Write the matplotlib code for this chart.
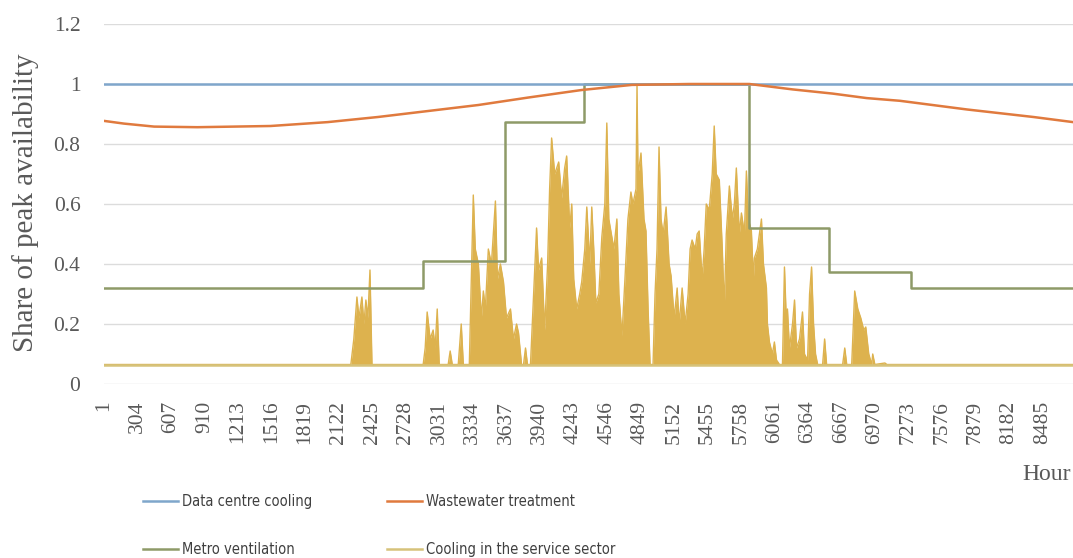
import matplotlib
matplotlib.use("Agg")
import matplotlib.pyplot as plt
import numpy as np
from matplotlib import font_manager
from matplotlib.font_manager import FontProperties

# hours 1..8760, category labels every 303 hours
tick_hours = list(range(1, 8761, 303))

# data centre cooling: flat
dc_level = 1.0

# wastewater treatment (hour, share)
ww_hours = [1, 181, 454, 844, 1506, 2024, 2477, 2931, 3385, 3838, 4319,
            4773, 5290, 5835, 6225, 6588, 6896, 7196, 7804, 8403, 8760]
ww_share = [0.877, 0.868, 0.858, 0.856, 0.860, 0.873, 0.890, 0.910, 0.930, 0.955, 0.980,
            0.997, 1.0, 1.0, 0.982, 0.968, 0.953, 0.944, 0.915, 0.890, 0.873]

# metro ventilation: monthly steps
metro_edges = [1, 2880, 3624, 4344, 5832, 6552, 7296, 8760]
metro_levels = [0.32, 0.41, 0.875, 1.0, 0.52, 0.375, 0.32]

# cooling in the service sector (hour, share), envelope of the hourly peaks
cool_base = 0.065
cool_hours = [
    1, 2232, 2259, 2287, 2305, 2332, 2350, 2368, 2386, 2405, 2423,
    2886, 2904, 2922, 2949, 2976, 2994, 3013, 3031, 3112, 3130, 3149,
    3203, 3230, 3249, 3303, 3321, 3339, 3357, 3385, 3412, 3430, 3448,
    3475, 3503, 3539, 3557, 3584, 3612, 3639, 3675, 3702, 3730, 3748,
    3775, 3793, 3811, 3829, 3856, 3884, 3911, 3929, 3957, 3984, 4011,
    4029, 4047, 4075, 4111, 4138, 4165, 4183, 4211, 4229, 4247, 4274,
    4301, 4319, 4347, 4365, 4392, 4410, 4428, 4447, 4474, 4501, 4528,
    4546, 4564, 4592, 4610, 4637, 4655, 4683, 4710, 4737, 4764, 4782,
    4810, 4819, 4828, 4837, 4855, 4882, 4900, 4919, 4937, 4964, 4982,
    5000, 5018, 5036, 5055, 5082, 5109, 5127, 5155, 5182, 5200, 5227,
    5254, 5281, 5299, 5317, 5345, 5363, 5381, 5408, 5426, 5445, 5472,
    5499, 5517, 5535, 5563, 5590, 5608, 5626, 5654, 5681, 5699, 5717,
    5744, 5763, 5790, 5808, 5826, 5853, 5871, 5880, 5907, 5926, 5944,
    5962, 5989, 5998, 6016, 6043, 6061, 6080, 6107, 6134, 6152, 6170,
    6179, 6197, 6225, 6243, 6261, 6288, 6315, 6333, 6361, 6379, 6397,
    6415, 6433, 6452, 6497, 6515, 6533, 6678, 6697, 6715, 6760, 6787,
    6815, 6842, 6869, 6887, 6914, 6941, 6950, 6969, 7060, 7078, 8760,
]
cool_share = [
    0.065, 0.065, 0.15, 0.29, 0.22, 0.29, 0.20, 0.28, 0.22, 0.38, 0.065,
    0.065, 0.12, 0.24, 0.15, 0.18, 0.12, 0.25, 0.065, 0.065, 0.11, 0.065,
    0.065, 0.20, 0.065, 0.065, 0.35, 0.63, 0.45, 0.40, 0.22, 0.31, 0.25,
    0.45, 0.40, 0.61, 0.35, 0.40, 0.34, 0.22, 0.25, 0.15, 0.20, 0.17,
    0.065, 0.065, 0.12, 0.065, 0.065, 0.30, 0.52, 0.38, 0.42, 0.18, 0.40,
    0.65, 0.82, 0.70, 0.74, 0.62, 0.72, 0.76, 0.52, 0.60, 0.35, 0.25,
    0.30, 0.34, 0.45, 0.59, 0.40, 0.59, 0.45, 0.27, 0.30, 0.49, 0.60,
    0.87, 0.55, 0.49, 0.45, 0.55, 0.30, 0.16, 0.35, 0.55, 0.64, 0.60,
    0.65, 1.0, 0.70, 0.72, 0.77, 0.55, 0.51, 0.25, 0.065, 0.065, 0.30,
    0.45, 0.79, 0.55, 0.50, 0.59, 0.40, 0.36, 0.22, 0.32, 0.20, 0.32,
    0.20, 0.30, 0.45, 0.48, 0.45, 0.50, 0.51, 0.35, 0.45, 0.60, 0.58,
    0.70, 0.86, 0.70, 0.68, 0.45, 0.25, 0.50, 0.66, 0.55, 0.60, 0.72,
    0.50, 0.57, 0.50, 0.71, 0.55, 0.51, 0.35, 0.42, 0.45, 0.50, 0.55,
    0.40, 0.32, 0.20, 0.14, 0.10, 0.14, 0.08, 0.065, 0.065, 0.39, 0.20,
    0.25, 0.12, 0.20, 0.28, 0.12, 0.15, 0.24, 0.10, 0.08, 0.30, 0.39,
    0.20, 0.10, 0.065, 0.065, 0.15, 0.065, 0.065, 0.12, 0.065, 0.065, 0.31,
    0.25, 0.22, 0.18, 0.19, 0.10, 0.065, 0.10, 0.065, 0.07, 0.065, 0.065,
]

BLUE = "#7FA6CB"
ORANGE = "#E07A3E"
OLIVE = "#8E9A68"
GOLD = "#DDB24E"
GOLD_LEG = "#D6C27A"
GRID = "#DCDCDC"
TXT = "#595959"

SERIF = "Liberation Serif"

# legend uses a narrow sans if one is installed
narrow = [f for f in font_manager.fontManager.ttflist
          if ("Narrow" in f.name or "Condensed" in f.name or f.stretch in ("condensed", "semi-condensed"))
          and f.style == "normal" and f.weight in (400, "normal", "regular")]
if narrow:
    leg_prop = FontProperties(fname=narrow[0].fname, size=10.5)
else:
    leg_prop = FontProperties(family="Lato", size=10.5)

fig = plt.figure(figsize=(10.73, 5.58), dpi=100)
ax = fig.add_axes([104 / 1073, 1 - 384 / 558, 1 - 104 / 1073, (384 - 24) / 558])

ax.fill_between(cool_hours, cool_base, cool_share, color=GOLD, lw=0, zorder=2)
ax.plot(cool_hours, cool_share, color=GOLD, lw=1.0, zorder=2)
ax.axhline(cool_base, color=GOLD_LEG, lw=1.8, zorder=2)
(cool_line,) = ax.plot([], [], color=GOLD_LEG, lw=1.8, label="Cooling in the service sector")

(metro_line,) = ax.plot(metro_edges, metro_levels + [metro_levels[-1]], drawstyle="steps-post",
                        color=OLIVE, lw=1.8, zorder=3, label="Metro ventilation")
(ww_line,) = ax.plot(ww_hours, ww_share, color=ORANGE, lw=1.8, zorder=4,
                     label="Wastewater treatment")
(dc_line,) = ax.plot([1, 8760], [dc_level, dc_level], color=BLUE, lw=1.8, zorder=3,
                     label="Data centre cooling")

ax.set_xlim(0.5, 8760.5)
ax.set_ylim(0, 1.2)
ax.set_yticks(np.arange(0, 1.21, 0.2))
ax.set_yticklabels(["0", "0.2", "0.4", "0.6", "0.8", "1", "1.2"])
ax.set_xticks(tick_hours)
ax.set_xticklabels([str(h) for h in tick_hours], rotation=90)
ax.grid(axis="y", color=GRID, lw=1.0, zorder=0)
ax.set_axisbelow(True)
for s in ax.spines.values():
    s.set_visible(False)
ax.tick_params(length=0, colors=TXT)
ax.tick_params(axis="y", pad=17, labelsize=15.5)
ax.tick_params(axis="x", pad=12, labelsize=15.5)
for lab in ax.get_xticklabels() + ax.get_yticklabels():
    lab.set_family(SERIF)

fig.text(26 / 1073, 1 - 203 / 558, "Share of peak availability", rotation=90, ha="center",
         va="center", family=SERIF, fontsize=21, color=TXT)
fig.text(1071 / 1073, 1 - 474 / 558, "Hour", ha="right", va="center", family=SERIF,
         fontsize=17, color=TXT)

leg_kw = dict(loc="upper left", frameon=False, handlelength=2.4, handletextpad=0.28,
              labelspacing=2.27, prop=leg_prop, labelcolor="#404040",
              borderpad=0, borderaxespad=0)
fig.legend(handles=[dc_line, metro_line], bbox_to_anchor=(143 / 1073, 1 - 494 / 558), **leg_kw)
fig.legend(handles=[ww_line, cool_line], bbox_to_anchor=(387 / 1073, 1 - 494 / 558), **leg_kw)

fig.savefig("out.png", dpi=100, facecolor="white")
